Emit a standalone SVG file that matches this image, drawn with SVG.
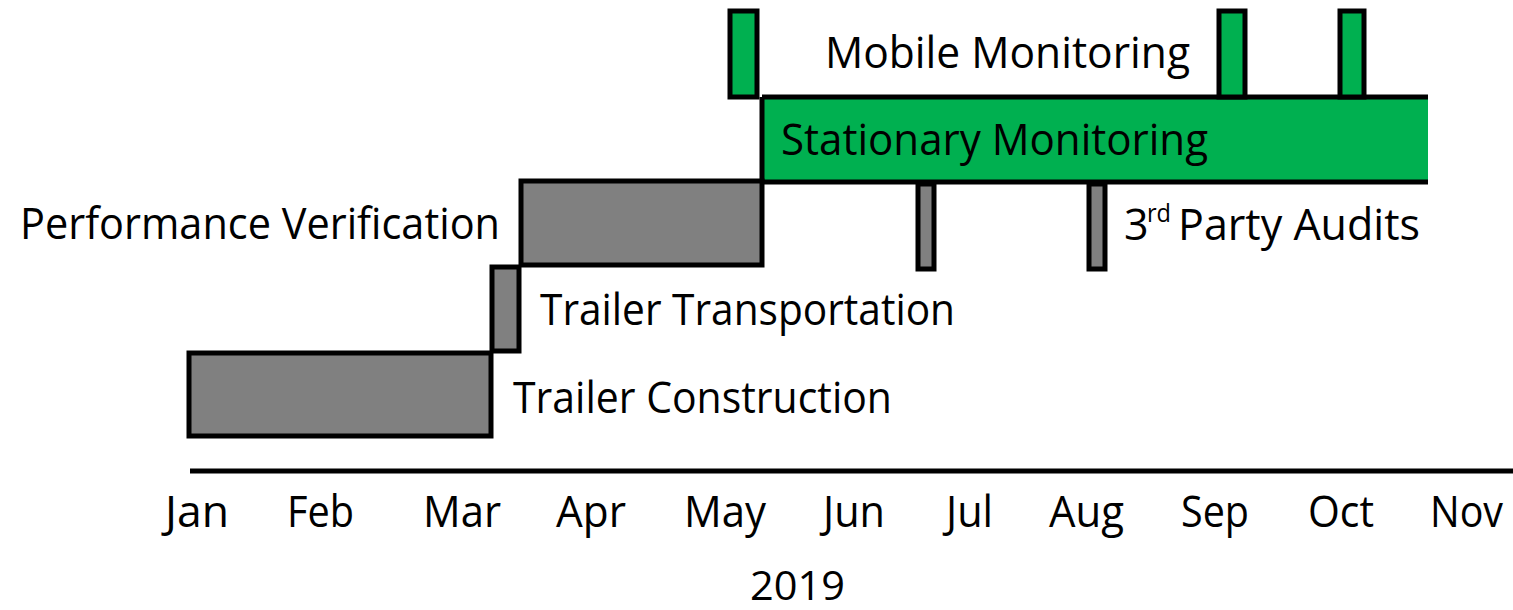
<svg xmlns="http://www.w3.org/2000/svg" width="1513" height="610" viewBox="0 0 1513 610">
<style>
.g{fill:#808080;stroke:#000;stroke-width:5}
.gr{fill:#00B050;stroke:#000;stroke-width:5}
.t{font-family:"Open Sans","Liberation Sans",sans-serif;font-size:43px;fill:#000}
.ln{stroke:#000;stroke-width:5;fill:none}
</style>
<rect width="1513" height="610" fill="#fff"/>
<g id="stationary">
<rect x="762" y="97" width="666" height="85" fill="#00B050"/>
<path class="ln" d="M762 97H1428M762 182H1428M762 97V182"/>
<text class="t" x="781" y="155" textLength="427" lengthAdjust="spacingAndGlyphs">Stationary Monitoring</text>
</g>
<g id="mobile">
<rect class="gr" x="730" y="11" width="27" height="86"/>
<rect class="gr" x="1219" y="11" width="26" height="86"/>
<rect class="gr" x="1340" y="11" width="24" height="86"/>
<text class="t" x="825" y="68" textLength="365" lengthAdjust="spacingAndGlyphs">Mobile Monitoring</text>
</g>
<g id="verification">
<rect class="g" x="521" y="181" width="241" height="84"/>
<text class="t" x="20" y="239" textLength="480" lengthAdjust="spacingAndGlyphs">Performance Verification</text>
</g>
<g id="transportation">
<rect class="g" x="492" y="267" width="27" height="84"/>
<text class="t" x="540" y="325" textLength="415" lengthAdjust="spacingAndGlyphs">Trailer Transportation</text>
</g>
<g id="construction">
<rect class="g" x="189" y="353" width="302" height="83"/>
<text class="t" x="513" y="413" textLength="379" lengthAdjust="spacingAndGlyphs">Trailer Construction</text>
</g>
<g id="audits">
<rect class="g" x="918" y="184" width="16" height="85"/>
<rect class="g" x="1089" y="184" width="16" height="85"/>
<text class="t" x="1124" y="240">3</text>
<text class="t" x="1147" y="222" style="font-size:26px" textLength="24" lengthAdjust="spacingAndGlyphs">rd</text>
<text class="t" x="1178" y="240" textLength="242" lengthAdjust="spacingAndGlyphs">Party Audits</text>
</g>
<g id="axis">
<path class="ln" d="M190 471H1513"/>
<text class="t" x="165" y="527" textLength="64" lengthAdjust="spacingAndGlyphs">Jan</text>
<text class="t" x="287" y="527" textLength="67" lengthAdjust="spacingAndGlyphs">Feb</text>
<text class="t" x="423" y="527" textLength="78" lengthAdjust="spacingAndGlyphs">Mar</text>
<text class="t" x="556" y="527" textLength="70" lengthAdjust="spacingAndGlyphs">Apr</text>
<text class="t" x="684" y="527" textLength="82" lengthAdjust="spacingAndGlyphs">May</text>
<text class="t" x="823" y="527" textLength="62" lengthAdjust="spacingAndGlyphs">Jun</text>
<text class="t" x="946" y="527" textLength="47" lengthAdjust="spacingAndGlyphs">Jul</text>
<text class="t" x="1049" y="527" textLength="75" lengthAdjust="spacingAndGlyphs">Aug</text>
<text class="t" x="1181" y="527" textLength="68" lengthAdjust="spacingAndGlyphs">Sep</text>
<text class="t" x="1308" y="527" textLength="66" lengthAdjust="spacingAndGlyphs">Oct</text>
<text class="t" x="1430" y="527" textLength="73" lengthAdjust="spacingAndGlyphs">Nov</text>
<text class="t" x="750" y="600" style="font-size:40px" textLength="95" lengthAdjust="spacingAndGlyphs">2019</text>
</g>
</svg>
